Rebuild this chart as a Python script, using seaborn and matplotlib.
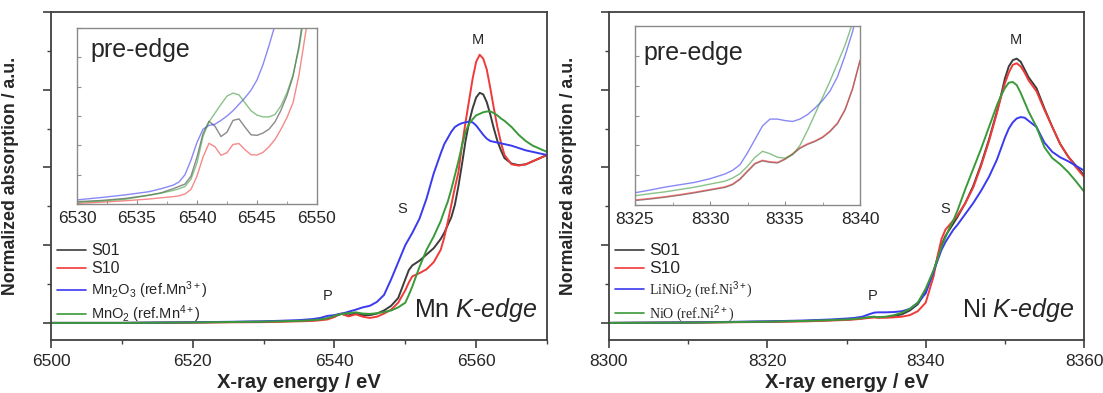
import numpy as np
import pandas as pd
import matplotlib
matplotlib.use("Agg")
import matplotlib.pyplot as plt
import seaborn as sns
from matplotlib.ticker import MultipleLocator

sns.set_style("ticks")
plt.rcParams['font.family'] = ['Liberation Sans', 'DejaVu Sans']
plt.rcParams['mathtext.fontset'] = 'custom'
plt.rcParams['mathtext.rm'] = 'Liberation Sans'
plt.rcParams['mathtext.it'] = 'Liberation Sans:italic'

# ---------------- Mn K-edge (main) ----------------
mn_E = [6500, 6510, 6520, 6530, 6535, 6537, 6538, 6539, 6540, 6540.5, 6541, 6541.5, 6542, 6543, 6544,
        6545, 6546, 6547, 6548, 6549, 6550, 6550.5, 6551, 6552, 6553, 6554, 6555, 6555.5, 6556, 6556.5,
        6557, 6557.5, 6558, 6558.5, 6559, 6559.5, 6560, 6560.5, 6561, 6561.5, 6562, 6562.5, 6563, 6563.5,
        6564, 6565, 6566, 6567, 6568, 6569, 6570]
mn_S01 = [0, 0.0, 0.003, 0.008, 0.013, 0.018, 0.022, 0.028, 0.04, 0.05, 0.058, 0.052, 0.048, 0.062, 0.05,
          0.05, 0.06, 0.08, 0.11, 0.16, 0.28, 0.34, 0.37, 0.40, 0.44, 0.48, 0.54, 0.58, 0.63, 0.68,
          0.76, 0.88, 1.02, 1.17, 1.29, 1.38, 1.45, 1.48, 1.47, 1.42, 1.34, 1.25, 1.17, 1.11,
          1.06, 1.025, 1.015, 1.02, 1.04, 1.06, 1.08]
mn_S10 = [0, 0.0, 0.002, 0.005, 0.01, 0.013, 0.017, 0.022, 0.038, 0.055, 0.06, 0.05, 0.042, 0.055, 0.04,
          0.032, 0.04, 0.06, 0.085, 0.13, 0.21, 0.26, 0.30, 0.32, 0.345, 0.39, 0.47, 0.55, 0.65, 0.76,
          0.87, 0.97, 1.14, 1.29, 1.43, 1.57, 1.68, 1.725, 1.70, 1.63, 1.51, 1.38, 1.26, 1.16,
          1.08, 1.02, 1.012, 1.02, 1.04, 1.06, 1.08]
mn_Mn2O3 = [0, 0.0, 0.004, 0.01, 0.018, 0.025, 0.032, 0.045, 0.05, 0.055, 0.06, 0.065, 0.072, 0.085, 0.10,
            0.11, 0.135, 0.18, 0.28, 0.39, 0.50, 0.54, 0.58, 0.67, 0.80, 0.96, 1.09, 1.15, 1.19, 1.23,
            1.26, 1.275, 1.285, 1.29, 1.295, 1.29, 1.27, 1.24, 1.21, 1.185, 1.17, 1.165, 1.16, 1.155,
            1.15, 1.14, 1.125, 1.11, 1.10, 1.09, 1.08]
mn_MnO2 = [0, 0.0, 0.003, 0.008, 0.013, 0.018, 0.022, 0.03, 0.045, 0.052, 0.058, 0.06, 0.063, 0.068, 0.06,
           0.058, 0.062, 0.07, 0.08, 0.10, 0.13, 0.18, 0.235, 0.36, 0.47, 0.555, 0.655, 0.72, 0.78, 0.86,
           0.95, 1.04, 1.14, 1.23, 1.28, 1.31, 1.335, 1.345, 1.355, 1.36, 1.36, 1.35, 1.335, 1.315,
           1.30, 1.26, 1.21, 1.17, 1.14, 1.12, 1.10]

# ---------------- Mn pre-edge (inset, arbitrary units) ----------------
mn_pre_E = [6530, 6532, 6534, 6536, 6537, 6538, 6538.5, 6539, 6539.5, 6540, 6540.5, 6541, 6541.5, 6542,
            6542.5, 6543, 6543.5, 6544, 6544.5, 6545, 6545.5, 6546, 6546.5, 6547, 6547.5, 6548, 6548.5,
            6549, 6549.5, 6550]
mn_pre_S01 = [0.08, 0.12, 0.19, 0.30, 0.38, 0.52, 0.60, 0.68, 0.95, 1.6, 2.4, 2.82, 2.65, 2.30,
              2.45, 2.85, 2.90, 2.62, 2.36, 2.34, 2.42, 2.55, 2.8, 3.2, 3.7, 4.35, 5.4,
              6.8, 8.0, 9.0]
mn_pre_S10 = [0.02, 0.06, 0.11, 0.17, 0.21, 0.25, 0.28, 0.34, 0.5, 0.95, 1.6, 2.07, 1.95, 1.66,
              1.75, 2.03, 2.06, 1.85, 1.68, 1.67, 1.76, 1.95, 2.2, 2.55, 2.95, 3.45, 4.4,
              5.7, 7.0, 9.0]
mn_pre_Mn2O3 = [0.14, 0.22, 0.31, 0.42, 0.52, 0.64, 0.75, 1.0, 1.5, 2.1, 2.55, 2.68, 2.72, 2.85,
                3.0, 3.18, 3.4, 3.62, 3.88, 4.23, 4.75, 5.4, 6.1, 7.0, 8.0, 9.0, 10.0,
                11.0, 12.0, 13.0]
mn_pre_MnO2 = [0.06, 0.10, 0.16, 0.30, 0.37, 0.46, 0.52, 0.60, 0.85, 1.4, 2.3, 2.8, 3.1, 3.4,
               3.68, 3.78, 3.72, 3.45, 3.18, 3.03, 2.97, 2.97, 3.05, 3.35, 3.8, 4.4, 5.3,
               6.6, 8.0, 9.0]

# ---------------- Ni K-edge (main) ----------------
ni_E = [8300, 8310, 8320, 8325, 8328, 8330, 8331, 8332, 8333, 8333.5, 8334, 8335, 8336, 8337, 8338,
        8339, 8340, 8341, 8341.5, 8342, 8342.5, 8343, 8343.5, 8344, 8345, 8346, 8347, 8348, 8349,
        8349.5, 8350, 8350.5, 8351, 8351.5, 8352, 8352.5, 8353, 8354, 8355, 8356, 8357, 8358, 8359, 8360]
ni_S01 = [0, 0.002, 0.008, 0.013, 0.018, 0.022, 0.025, 0.03, 0.036, 0.038, 0.036, 0.038, 0.045, 0.055, 0.08,
          0.12, 0.2, 0.33, 0.42, 0.50, 0.56, 0.60, 0.64, 0.68, 0.77, 0.88, 1.02, 1.18, 1.36,
          1.46, 1.57, 1.65, 1.69, 1.70, 1.68, 1.63, 1.58, 1.51, 1.38, 1.26, 1.15, 1.07, 1.01, 0.95]
ni_S10 = [0, 0.002, 0.006, 0.01, 0.015, 0.019, 0.022, 0.027, 0.033, 0.035, 0.033, 0.033, 0.036, 0.04, 0.05,
          0.075, 0.13, 0.30, 0.43, 0.54, 0.60, 0.63, 0.66, 0.69, 0.77, 0.87, 1.01, 1.17, 1.35,
          1.45, 1.54, 1.61, 1.66, 1.67, 1.65, 1.61, 1.56, 1.49, 1.37, 1.26, 1.15, 1.07, 1.0, 0.94]
ni_LiNiO2 = [0, 0.003, 0.01, 0.016, 0.022, 0.028, 0.032, 0.04, 0.058, 0.066, 0.068, 0.068, 0.07, 0.075, 0.09,
             0.13, 0.19, 0.33, 0.40, 0.47, 0.52, 0.56, 0.60, 0.63, 0.70, 0.77, 0.85, 0.94, 1.05,
             1.12, 1.19, 1.25, 1.29, 1.315, 1.324, 1.32, 1.30, 1.26, 1.16, 1.10, 1.065, 1.04, 1.01, 0.98]
ni_NiO = [0, 0.002, 0.008, 0.013, 0.018, 0.022, 0.026, 0.031, 0.038, 0.04, 0.037, 0.04, 0.05, 0.065, 0.09,
          0.13, 0.22, 0.34, 0.41, 0.49, 0.55, 0.61, 0.66, 0.72, 0.86, 0.99, 1.12, 1.26, 1.40,
          1.46, 1.51, 1.545, 1.55, 1.53, 1.48, 1.42, 1.36, 1.26, 1.13, 1.06, 1.02, 0.97, 0.91, 0.845]

# ---------------- Ni pre-edge (inset, arbitrary units) ----------------
ni_pre_E = [8325, 8326, 8327, 8328, 8329, 8330, 8331, 8331.5, 8332, 8332.5, 8333, 8333.5, 8334, 8334.5,
            8335, 8335.5, 8336, 8336.5, 8337, 8337.5, 8338, 8338.5, 8339, 8339.5, 8340]
ni_pre_S01 = [0.15, 0.20, 0.26, 0.33, 0.41, 0.50, 0.59, 0.68, 0.86, 1.12, 1.38, 1.48, 1.43, 1.41,
              1.53, 1.70, 1.90, 2.03, 2.13, 2.26, 2.46, 2.73, 3.18, 3.88, 4.83]
ni_pre_S10 = [0.17, 0.22, 0.28, 0.35, 0.43, 0.52, 0.61, 0.70, 0.88, 1.15, 1.40, 1.50, 1.45, 1.43,
              1.55, 1.72, 1.92, 2.05, 2.15, 2.28, 2.48, 2.75, 3.20, 3.90, 4.85]
ni_pre_LiNiO2 = [0.41, 0.50, 0.60, 0.68, 0.76, 0.88, 1.04, 1.16, 1.35, 1.75, 2.2, 2.65, 2.88, 2.88,
                 2.83, 2.80, 2.88, 3.03, 3.25, 3.5, 3.82, 4.3, 5.0, 5.8, 6.8]
ni_pre_NiO = [0.31, 0.38, 0.44, 0.52, 0.60, 0.70, 0.80, 0.90, 1.05, 1.3, 1.6, 1.8, 1.72, 1.6,
              1.57, 1.68, 2.0, 2.5, 3.05, 3.6, 4.15, 4.75, 5.35, 6.1, 7.0]

mn_labels = ["S01", "S10", r"Mn$_2$O$_3$ (ref.Mn$^{3+}$)", r"MnO$_2$ (ref.Mn$^{4+}$)"]
ni_labels = ["S01", "S10", r"LiNiO$_2$ (ref.Ni$^{3+}$)", r"NiO (ref.Ni$^{2+}$)"]
colors = ["#3c3c3c", "#f03a3a", "#3a3af0", "#3a9a3a"]

W, H = 1103, 393
fig = plt.figure(figsize=(W / 100, H / 100), dpi=100)


def frac(x0, y0, x1, y1):
    return [x0 / W, 1 - y1 / H, (x1 - x0) / W, (y1 - y0) / H]


axL = fig.add_axes(frac(51, 12, 547, 340))
axR = fig.add_axes(frac(609, 12, 1084, 340))
inL = fig.add_axes(frac(77, 28, 317, 204))
inR = fig.add_axes(frac(635, 26, 860, 205))


def draw_main(ax, E, series, labels, xlim, xmaj, edge_text, ann, leg_serif):
    for ys, lab, c in zip(series, labels, colors):
        sns.lineplot(x=E, y=ys, ax=ax, color=c, lw=1.4, label=lab, sort=False, estimator=None)
    ax.set_xlim(*xlim)
    ax.set_ylim(-0.11, 2.0)
    ax.xaxis.set_major_locator(MultipleLocator(xmaj))
    ax.xaxis.set_minor_locator(MultipleLocator(xmaj / 2))
    ax.yaxis.set_major_locator(MultipleLocator(0.5))
    ax.yaxis.set_minor_locator(MultipleLocator(0.25))
    ax.set_yticklabels([])
    ax.tick_params(axis='both', which='major', direction='out', length=6, width=1.2, color='#404040',
                   labelsize=12.5, pad=4)
    ax.tick_params(axis='both', which='minor', direction='out', length=3, width=1.0, color='#404040')
    for s in ax.spines.values():
        s.set_color('#404040')
        s.set_linewidth(1.3)
    ax.set_xlabel("X-ray energy / eV", fontsize=14.5, fontweight='bold', labelpad=3)
    ax.set_ylabel("Normalized absorption / a.u.", fontsize=12.8, fontweight='bold', labelpad=13)
    ax.text(0.98, 0.09, edge_text, transform=ax.transAxes, ha='right', va='center', fontsize=18)
    for t, (x, y) in ann.items():
        ax.text(x, y, t, ha='center', va='center', fontsize=10.5)
    leg = ax.legend(loc='upper left', bbox_to_anchor=(0.012, 0.295), frameon=False, borderpad=0,
                    borderaxespad=0, handlelength=2.0, handletextpad=0.35, labelspacing=0.2,
                    fontsize=10.5)
    texts = leg.get_texts()
    for t in texts[:2]:
        t.set_fontsize(12.5 if leg_serif else 11.5)
    if leg_serif:
        for t in texts[2:]:
            t.set_fontfamily(['Liberation Serif', 'DejaVu Serif'])
            t.set_fontsize(10)
    for l in leg.get_lines():
        l.set_linewidth(1.2)


def draw_inset(ax, E, series, xlim, text_xy):
    for ys, c in zip(series, colors):
        sns.lineplot(x=E, y=ys, ax=ax, color=c, lw=1.0, alpha=0.6, sort=False, estimator=None,
                     legend=False)
    ax.set_xlim(*xlim)
    ax.set_ylim(0, 6)
    ax.xaxis.set_major_locator(MultipleLocator(5))
    ax.xaxis.set_minor_locator(MultipleLocator(2.5))
    ax.yaxis.set_major_locator(MultipleLocator(1))
    ax.set_yticklabels([])
    ax.tick_params(axis='both', which='major', direction='in', length=3, width=0.8, color='#909090',
                   labelsize=12.5, pad=5)
    ax.tick_params(axis='x', which='minor', direction='in', length=2, width=0.6, color='#909090')
    for s in ax.spines.values():
        s.set_color('#8a8a8a')
        s.set_linewidth(1.0)
    ax.set_xlabel("")
    ax.set_ylabel("")
    ax.text(text_xy[0], text_xy[1], "pre-edge", transform=ax.transAxes, ha='left', va='center',
            fontsize=18)


draw_main(axL, mn_E, [mn_S01, mn_S10, mn_Mn2O3, mn_MnO2], mn_labels, (6500, 6570), 20,
          r"Mn $\it{K}$-$\it{edge}$",
          {"P": (6539.1, 0.17), "S": (6549.6, 0.73), "M": (6560.2, 1.82)}, False)
draw_main(axR, ni_E, [ni_S01, ni_S10, ni_LiNiO2, ni_NiO], ni_labels, (8300, 8360), 20,
          r"Ni $\it{K}$-$\it{edge}$",
          {"P": (8333.3, 0.17), "S": (8342.5, 0.73), "M": (8351.4, 1.82)}, True)
draw_inset(inL, mn_pre_E, [mn_pre_S01, mn_pre_S10, mn_pre_Mn2O3, mn_pre_MnO2], (6530, 6550), (0.054, 0.875))
draw_inset(inR, ni_pre_E, [ni_pre_S01, ni_pre_S10, ni_pre_LiNiO2, ni_pre_NiO], (8325, 8340), (0.036, 0.85))

fig.savefig("out.png", dpi=100)
